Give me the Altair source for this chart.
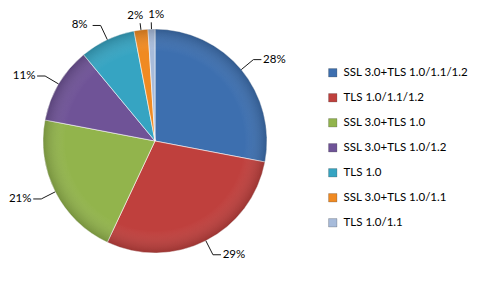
import math
import altair as alt
import pandas as pd

# ---- data ----
categories = [
    "SSL 3.0+TLS 1.0/1.1/1.2",
    "TLS 1.0/1.1/1.2",
    "SSL 3.0+TLS 1.0",
    "SSL 3.0+TLS 1.0/1.2",
    "TLS 1.0",
    "SSL 3.0+TLS 1.0/1.1",
    "TLS 1.0/1.1",
]
shares = [28, 29, 21, 11, 8, 2, 1]

# ---- style ----
colors = ["#3D6FAF", "#BF403D", "#92B44C", "#6F5397", "#36A4C2", "#F08A22", "#A7BBDA"]
W, H = 482, 290
CX, CY, R = 155, 141, 112
FONT = "Lato"
ELBOW = 1.14      # leader elbow radius (in pie radii)
ELBOW_TOP = 1.06  # elbow radius for labels near the top
HSEG = 8 / R      # horizontal leader segment
HALF = 11 / R     # half label width

total = float(sum(shares))
rows = []
cum = 0.0
for i, (c, s) in enumerate(zip(categories, shares)):
    mid = (cum + s / 2) / total * 2 * math.pi
    cum += s
    sx, cy_ = math.sin(mid), math.cos(mid)
    side = 1 if sx >= 0 else -1
    top = abs(sx) < 0.2 and cy_ > 0
    el = ELBOW_TOP if top else ELBOW
    ex, ey = el * sx, el * cy_
    if top:
        lx, ly = ex, ey + 7 / R
    else:
        lx, ly = ex + side * (HSEG + 2 / R + HALF), ey
    rows.append(dict(category=c, share=s, order=i, side=side, top=top,
                     label=f"{round(s / total * 100)}%",
                     sx=sx, sy=cy_, ex=ex, ey=ey, lx=lx, ly=ly))

# simple de-overlap of neighbouring labels
for a in range(len(rows)):
    for b in range(a + 1, len(rows)):
        A, B = rows[a], rows[b]
        if abs(A["ly"] - B["ly"]) * R < 13:
            dx = (B["lx"] - A["lx"]) * R
            need = 21
            if abs(dx) < need:
                sgn = 1 if dx >= 0 else -1
                shift = (need - abs(dx)) / 2 / R
                A["lx"] -= sgn * shift
                B["lx"] += sgn * shift

lines = []
for r in rows:
    pts = [(r["sx"], r["sy"]), (r["ex"], r["ey"])]
    if not r["top"]:
        pts.append((r["lx"] - r["side"] * (HALF + 2 / R), r["ey"]))
    for k, (ux, uy) in enumerate(pts):
        lines.append(dict(category=r["category"], k=k, ux=ux, uy=uy))

df = pd.DataFrame(rows)
ldf = pd.DataFrame(lines)

xs = alt.Scale(domain=[-CX / R, (W - CX) / R], range=[0, W], nice=False, zero=False)
ys = alt.Scale(domain=[-(H - CY) / R, CY / R], range=[H, 0], nice=False, zero=False)

cx_enc = alt.X(datum=0, type="quantitative", scale=xs, axis=None)
cy_enc = alt.Y(datum=0, type="quantitative", scale=ys, axis=None)

pie = alt.Chart(df).mark_arc(
    outerRadius=R, stroke="#ffffff", strokeWidth=0.7, strokeOpacity=0.8
).encode(
    theta=alt.Theta("share:Q", stack=True),
    order=alt.Order("order:Q"),
    color=alt.Color(
        "category:N",
        scale=alt.Scale(domain=categories, range=colors),
        legend=alt.Legend(
            title=None, orient="none", legendX=327, legendY=67,
            symbolType="square", symbolSize=70, symbolStrokeWidth=0.8,
            symbolStrokeColor="#00000040",
            labelFont=FONT, labelFontSize=11.5, labelColor="#000000",
            labelOffset=5, rowPadding=12, padding=0,
        ),
    ),
    x=cx_enc,
    y=cy_enc,
)

shade = alt.Chart(df).transform_aggregate(n="count()").mark_arc(
    outerRadius=R, theta=0, theta2=2 * math.pi,
    fill=alt.Gradient(
        gradient="radial",
        stops=[
            alt.GradientStop(color="#ffffff00", offset=0),
            alt.GradientStop(color="#ffffff00", offset=0.8),
            alt.GradientStop(color="#00000030", offset=1),
        ],
        x1=0.5, y1=0.5, r1=0, x2=0.5, y2=0.5, r2=0.5,
    ),
).encode(x=cx_enc, y=cy_enc)

leader = alt.Chart(ldf).mark_line(color="#1a1a1a", strokeWidth=1).encode(
    x=alt.X("ux:Q", scale=xs, axis=None),
    y=alt.Y("uy:Q", scale=ys, axis=None),
    detail="category:N",
    order="k:Q",
)

text = alt.Chart(df).mark_text(font=FONT, fontSize=11.5, color="#000000",
                               align="center", baseline="middle").encode(
    x=alt.X("lx:Q", scale=xs, axis=None),
    y=alt.Y("ly:Q", scale=ys, axis=None),
    text="label:N",
)

chart = alt.layer(pie, shade, leader, text).properties(
    width=W, height=H, autosize=alt.AutoSizeParams(type="none"), padding=0,
    background="#ffffff",
).configure_view(stroke=None)

chart.save("out.html", embed_options={"renderer": "svg", "actions": False})
